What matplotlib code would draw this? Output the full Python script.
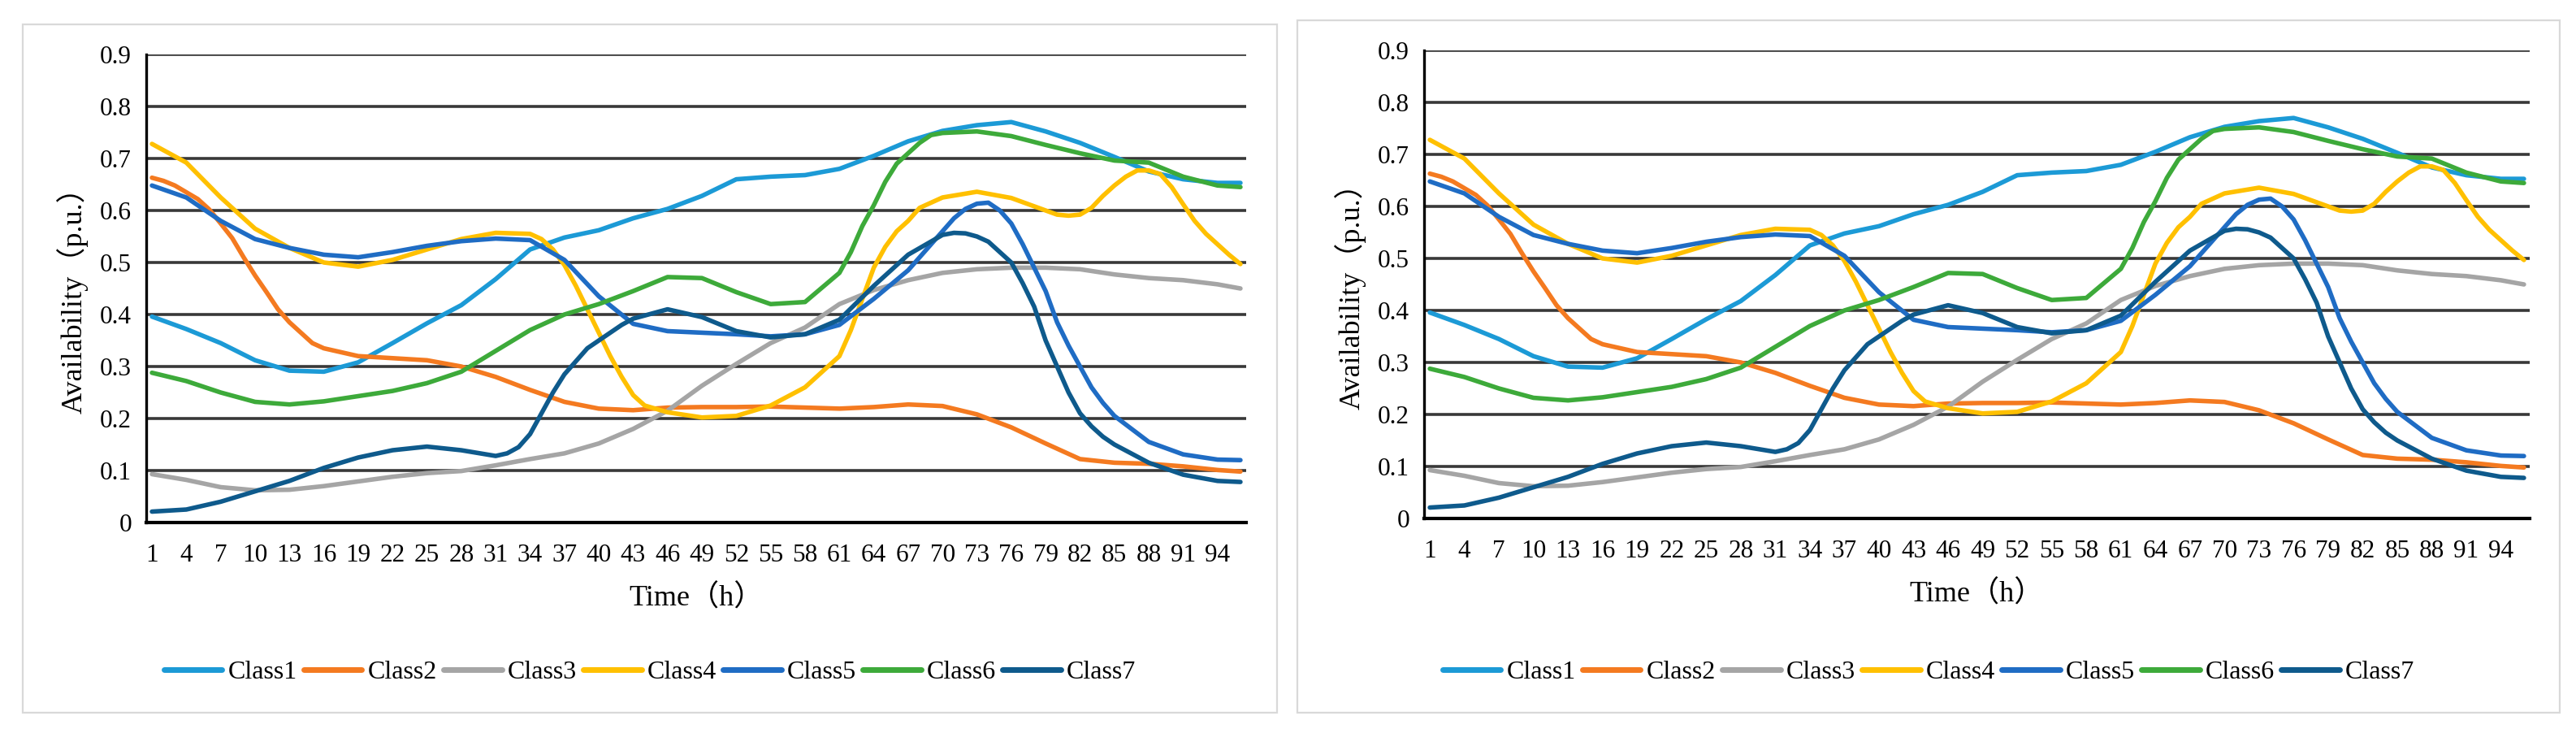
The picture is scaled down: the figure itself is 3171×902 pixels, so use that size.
import matplotlib
matplotlib.use("Agg")
import matplotlib.pyplot as plt
from matplotlib.patches import Rectangle

hours = [1, 4, 7, 10, 13, 16, 19, 22, 25, 28, 31, 34, 37, 40, 43, 46,
         49, 52, 55, 58, 61, 64, 67, 70, 73, 76, 79, 82, 85, 88, 91, 94, 96]
tick_hours = list(range(1, 97, 3))

# values read at the labelled hours
class1 = [0.396, 0.372, 0.345, 0.312, 0.292, 0.290, 0.308, 0.345, 0.383, 0.418, 0.468,
          0.525, 0.548, 0.562, 0.585, 0.603, 0.628, 0.660, 0.665, 0.668, 0.680, 0.705,
          0.733, 0.753, 0.764, 0.770, 0.752, 0.730, 0.703, 0.675, 0.660, 0.653, 0.653]
class2 = [0.663, 0.635, 0.575, 0.475, 0.385, 0.335, 0.320, 0.316, 0.312, 0.300, 0.280,
          0.255, 0.232, 0.219, 0.216, 0.221, 0.222, 0.222, 0.223, 0.221, 0.219, 0.222,
          0.227, 0.224, 0.208, 0.183, 0.152, 0.122, 0.115, 0.113, 0.108, 0.101, 0.098]
class3 = [0.093, 0.082, 0.068, 0.062, 0.063, 0.070, 0.079, 0.088, 0.095, 0.099, 0.110,
          0.122, 0.133, 0.152, 0.180, 0.215, 0.263, 0.305, 0.345, 0.375, 0.420, 0.447,
          0.466, 0.480, 0.487, 0.490, 0.490, 0.487, 0.477, 0.470, 0.466, 0.458, 0.450]
class4 = [0.728, 0.692, 0.625, 0.565, 0.528, 0.500, 0.492, 0.505, 0.525, 0.545, 0.557,
          0.555, 0.495, 0.365, 0.245, 0.212, 0.202, 0.205, 0.225, 0.260, 0.320, 0.490,
          0.580, 0.625, 0.636, 0.624, 0.600, 0.592, 0.648, 0.677, 0.612, 0.535, 0.497]
class5 = [0.648, 0.625, 0.580, 0.545, 0.528, 0.515, 0.510, 0.520, 0.532, 0.541, 0.546,
          0.543, 0.505, 0.435, 0.382, 0.368, 0.365, 0.362, 0.358, 0.362, 0.380, 0.430,
          0.485, 0.560, 0.613, 0.575, 0.445, 0.300, 0.205, 0.155, 0.131, 0.121, 0.120]
class6 = [0.288, 0.272, 0.250, 0.232, 0.227, 0.233, 0.243, 0.253, 0.268, 0.290, 0.330,
          0.370, 0.400, 0.420, 0.445, 0.472, 0.470, 0.443, 0.420, 0.424, 0.480, 0.610,
          0.710, 0.749, 0.752, 0.743, 0.726, 0.710, 0.696, 0.692, 0.665, 0.648, 0.645]
class7 = [0.021, 0.025, 0.040, 0.060, 0.080, 0.105, 0.125, 0.139, 0.146, 0.139, 0.128,
          0.170, 0.285, 0.350, 0.392, 0.410, 0.395, 0.368, 0.356, 0.362, 0.390, 0.455,
          0.515, 0.553, 0.550, 0.500, 0.350, 0.210, 0.150, 0.115, 0.092, 0.080, 0.078]

# extra readings between the labelled hours where the curves bend sharply
class4_extra_h = [35, 36, 38, 39, 41, 42, 44, 62, 63, 65, 66, 68, 80, 81, 83, 84, 86, 87,
                  89, 90, 92, 93, 95]
class4_extra_v = [0.545, 0.525, 0.455, 0.41, 0.32, 0.28, 0.225, 0.37, 0.43, 0.53, 0.56, 0.605,
                  0.592, 0.59, 0.605, 0.628, 0.665, 0.677, 0.67, 0.645, 0.58, 0.555, 0.515]
class5_extra_h = [68, 69, 71, 72, 74, 75, 77, 78, 80, 81, 83, 84]
class5_extra_v = [0.51, 0.535, 0.585, 0.603, 0.615, 0.60, 0.535, 0.49, 0.385, 0.34, 0.26, 0.23]
class6_extra_h = [62, 63, 65, 66, 68, 69]
class6_extra_v = [0.52, 0.57, 0.655, 0.69, 0.73, 0.745]
class7_extra_h = [32, 33, 35, 36, 38, 39, 41, 42, 71, 72, 74, 75, 77, 78, 80, 81, 83, 84]
class7_extra_v = [0.133, 0.145, 0.21, 0.25, 0.31, 0.335, 0.365, 0.38,
                  0.557, 0.556, 0.54, 0.52, 0.46, 0.415, 0.30, 0.25, 0.185, 0.165]
class2_extra_h = [2, 3, 5, 6, 8, 9, 11, 12, 14, 15]
class2_extra_v = [0.657, 0.648, 0.622, 0.602, 0.547, 0.51, 0.443, 0.41, 0.365, 0.345]

series = [class1, class2, class3, class4, class5, class6, class7]
extras = [([], []), (class2_extra_h, class2_extra_v), ([], []),
          (class4_extra_h, class4_extra_v), (class5_extra_h, class5_extra_v),
          (class6_extra_h, class6_extra_v), (class7_extra_h, class7_extra_v)]
names = ["Class1", "Class2", "Class3", "Class4", "Class5", "Class6", "Class7"]
colors = ["#1C9AD6", "#F47A20", "#A5A5A5", "#FFC000", "#1F6CC4", "#3DAA3A", "#0E5A8C"]

SERIF = ["Liberation Serif", "Noto Sans CJK SC"]

W, H = 3171, 902
fig = plt.figure(figsize=(W / 100, H / 100), dpi=100)


def merged(vals, extra):
    pts = sorted(list(zip(hours, vals)) + list(zip(extra[0], extra[1])))
    return [p[0] for p in pts], [p[1] for p in pts]


def draw_panel(box, axes_rect):
    fig.patches.append(Rectangle((box[0], box[1]), box[2], box[3], transform=fig.transFigure,
                                 facecolor="none", edgecolor="#d9d9d9", linewidth=1.6,
                                 zorder=-1))
    ax = fig.add_axes(axes_rect)
    ax.patch.set_alpha(0)
    for vals, extra, name, col in zip(series, extras, names, colors):
        xs, ys = merged(vals, extra)
        ax.plot(xs, ys, color=col, linewidth=4, label=name,
                solid_capstyle="round", solid_joinstyle="round")
    ax.set_xlim(0.5, 96.5)
    ax.set_ylim(0, 0.9)
    ax.set_yticks([i / 10 for i in range(10)])
    ax.set_yticklabels(["0"] + ["0.%d" % i for i in range(1, 10)])
    ax.set_xticks(tick_hours)
    ax.set_xticklabels([str(h) for h in tick_hours])
    ax.grid(axis="y", color="#383838", linewidth=2.6)
    ax.set_axisbelow(True)
    for s in ["top", "right"]:
        ax.spines[s].set_visible(False)
    ax.spines["left"].set_linewidth(2.4)
    ax.spines["bottom"].set_linewidth(3)
    ax.tick_params(length=0, labelsize=22.5)
    ax.tick_params(axis="y", pad=13)
    ax.tick_params(axis="x", pad=19)
    for lab in ax.get_xticklabels() + ax.get_yticklabels():
        lab.set_family(SERIF)
    ax.set_xlabel("Time（h）", family=SERIF, fontsize=26, labelpad=15)
    pos = ax.get_position()
    fig.text(pos.x0 - 91 / W, pos.y0 + pos.height * 0.49, "Availability（p.u.）",
             rotation=90, ha="center", va="center", family=SERIF, fontsize=26)
    leg = ax.legend(loc="center", bbox_to_anchor=(box[0] + box[2] / 2, 75 / H),
                    bbox_transform=fig.transFigure, ncol=7, frameon=False,
                    prop={"family": SERIF, "size": 23}, handlelength=2.25,
                    handletextpad=0.22, columnspacing=0.25)
    for line in leg.get_lines():
        line.set_linewidth(5)
    return ax


draw_panel((28 / W, 25 / H, 1544 / W, 847 / H), (180 / W, 259 / H, 1354 / W, 576 / H))
draw_panel((1597 / W, 25 / H, 1554 / W, 852 / H), (1753 / W, 264 / H, 1361 / W, 576 / H))

fig.savefig("out.png", dpi=100, facecolor="white")
